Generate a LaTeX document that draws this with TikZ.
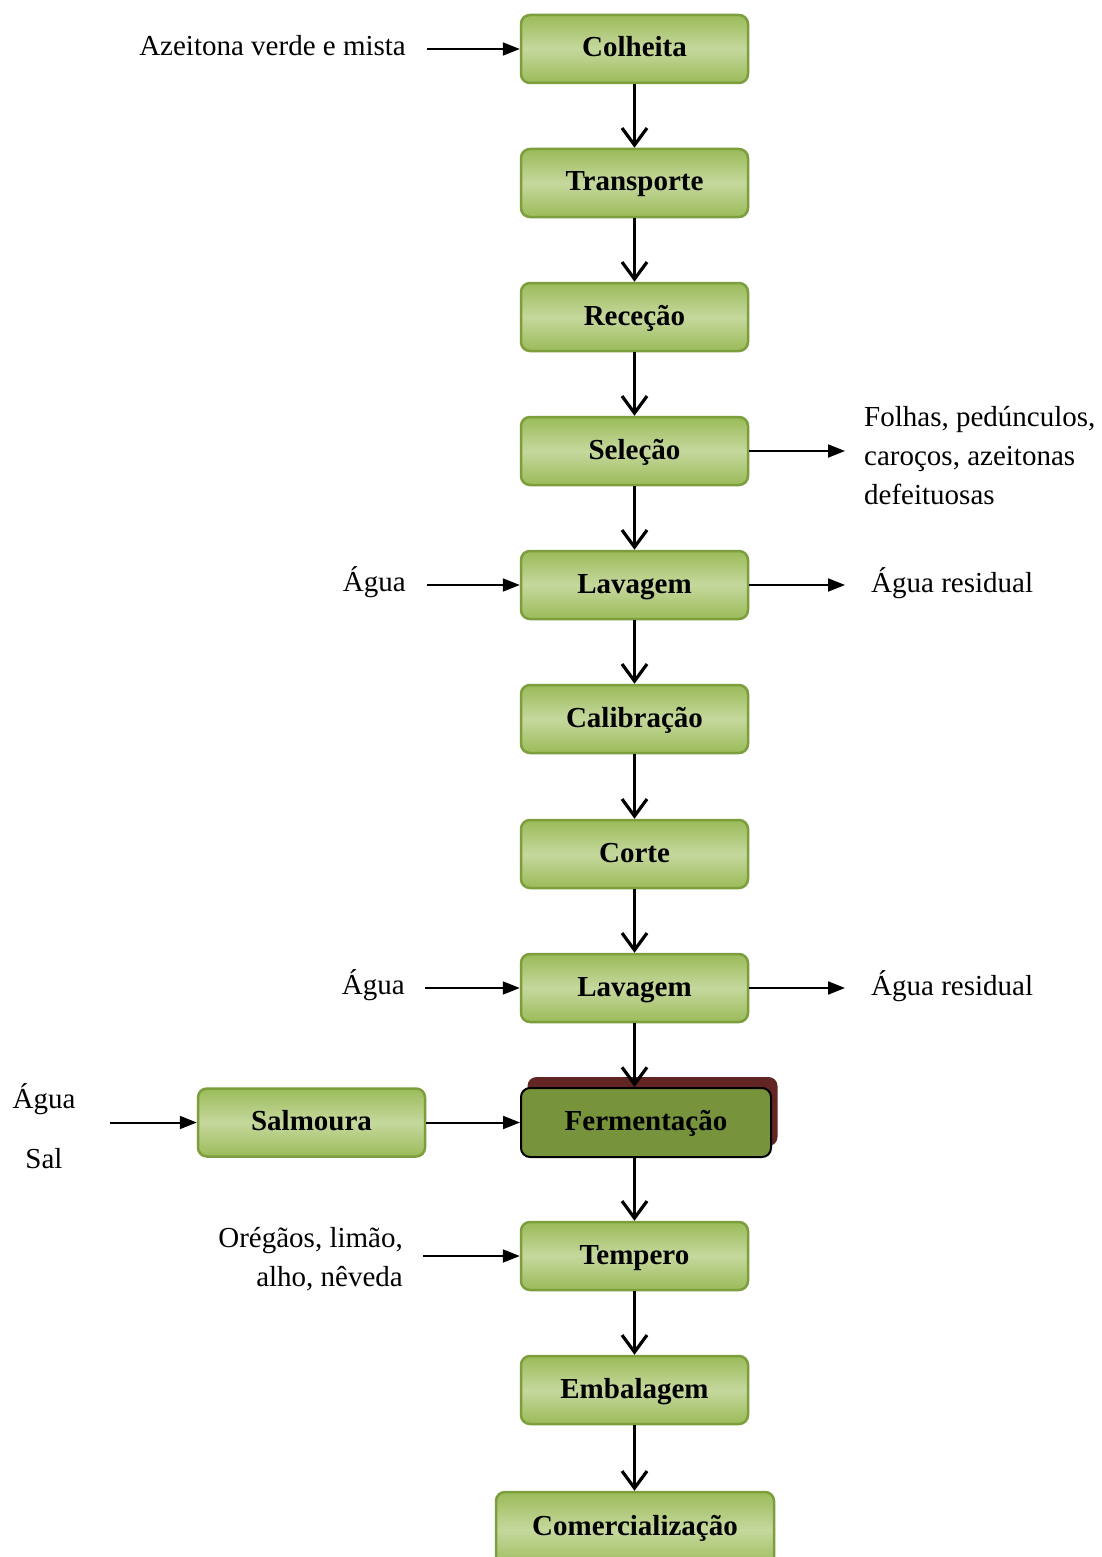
\documentclass[tikz,border=0pt]{standalone}
\usepackage{fontspec}
\setmainfont{Liberation Serif}
\usetikzlibrary{arrows.meta,shadows}
\definecolor{boxline}{RGB}{124,158,60}
\definecolor{boxtop}{RGB}{155,187,89}
\definecolor{boxmid}{RGB}{197,216,157}
\definecolor{fermfill}{RGB}{119,147,60}
\definecolor{shadowred}{RGB}{99,37,35}
\begin{document}
\begin{tikzpicture}[x=1pt,y=-1pt,
  stepbox/.style={rectangle, rounded corners=9pt, draw=boxline, line width=2.5pt,
    top color=boxtop, bottom color=boxtop, middle color=boxmid,
    minimum width=227pt, minimum height=68pt, inner sep=0pt,
    text height=21pt, text depth=5pt,
    font=\fontsize{29}{34}\selectfont\bfseries},
  fermbox/.style={rectangle, rounded corners=9pt, draw=black, line width=2pt,
    fill=fermfill, minimum width=250pt, minimum height=69pt, inner sep=0pt,
    text height=21pt, text depth=5pt,
    font=\fontsize{29}{34}\selectfont\bfseries,
    general shadow={fill=shadowred, rounded corners=9pt, shadow xshift=6.5pt, shadow yshift=11pt}},
  lbl/.style={inner sep=0pt, font=\fontsize{29}{39}\selectfont},
  varrow/.style={line width=3.2pt, -{Straight Barb[length=17pt,width=25pt,line width=3.2pt]}},
  harrow/.style={line width=2pt, -{Triangle[length=17pt,width=13pt]}}
]
\clip (0,0) rectangle (1102,1557);
\fill[white] (0,0) rectangle (1102,1557);

% main column
\node[stepbox] (colheita) at (634.5,49) {Colheita};
\node[stepbox] (transp) at (634.5,183) {Transporte};
\node[stepbox] (rececao) at (634.5,317) {Receção};
\node[stepbox] (selecao) at (634.5,451) {Seleção};
\node[stepbox] (lav1) at (634.5,585) {Lavagem};
\node[stepbox] (calib) at (634.5,719) {Calibração};
\node[stepbox] (corte) at (634.5,854) {Corte};
\node[stepbox] (lav2) at (634.5,988) {Lavagem};
\node[fermbox] (ferm) at (646,1122.5) {Fermentação};
\node[stepbox] (salm) at (311.5,1122.5) {Salmoura};
\node[stepbox] (tempero) at (634.5,1256) {Tempero};
\node[stepbox] (embal) at (634.5,1390) {Embalagem};
\node[stepbox, minimum width=278pt, minimum height=76pt] (comerc) at (635,1530) {};
\node[inner sep=0pt, font=\fontsize{29}{34}\selectfont\bfseries, anchor=base] (comerctxt) at (635,1535) {Comercialização};

% labels
\node[lbl, anchor=base east] (azl) at (406,56) {Azeitona verde e mista};
\node[lbl, anchor=north west, align=left] (folhas) at (864,406) {Folhas, pedúnculos,\\caroços, azeitonas\\defeituosas};
\node[lbl, anchor=base east] (agua1) at (406,591) {Água};
\node[lbl, anchor=base west] (res1) at (871,592) {Água residual};
\node[lbl, anchor=base east] (agua2) at (405,994) {Água};
\node[lbl, anchor=base west] (res2) at (871,995) {Água residual};
\node[lbl, anchor=base] (aguas) at (44,1108) {Água};
\node[lbl, anchor=base] (sal) at (44,1168) {Sal};
\node[lbl, anchor=north east, align=right] (oregaos) at (403,1227) {Orégãos, limão,\\alho, nêveda};

% free ends
\coordinate (inA) at (427,49);
\coordinate (inB) at (427,585);
\coordinate (inC) at (425,988);
\coordinate (inD) at (110,1122.5);
\coordinate (inE) at (423,1256);
\coordinate (outA) at (845,451);
\coordinate (outB) at (845,585);
\coordinate (outC) at (845,988);

% vertical arrows
\draw[varrow] (colheita.south) -- (transp.north);
\draw[varrow] (transp.south) -- (rececao.north);
\draw[varrow] (rececao.south) -- (selecao.north);
\draw[varrow] (selecao.south) -- (lav1.north);
\draw[varrow] (lav1.south) -- (calib.north);
\draw[varrow] (calib.south) -- (corte.north);
\draw[varrow] (corte.south) -- (lav2.north);
\draw[varrow] (lav2.south) -- (lav2.south |- ferm.north);
\draw[varrow] (lav2.south |- ferm.south) -- (tempero.north);
\draw[varrow] (tempero.south) -- (embal.north);
\draw[varrow] (embal.south) -- (embal.south |- comerc.north);

% horizontal arrows
\draw[harrow] (inA) -- (colheita.west);
\draw[harrow] (inB) -- (lav1.west);
\draw[harrow] (inC) -- (lav2.west);
\draw[harrow] (inD) -- (salm.west);
\draw[harrow] (salm.east) -- (ferm.west);
\draw[harrow] (inE) -- (tempero.west);
\draw[harrow] (selecao.east) -- (outA);
\draw[harrow] (lav1.east) -- (outB);
\draw[harrow] (lav2.east) -- (outC);
\end{tikzpicture}
\end{document}
